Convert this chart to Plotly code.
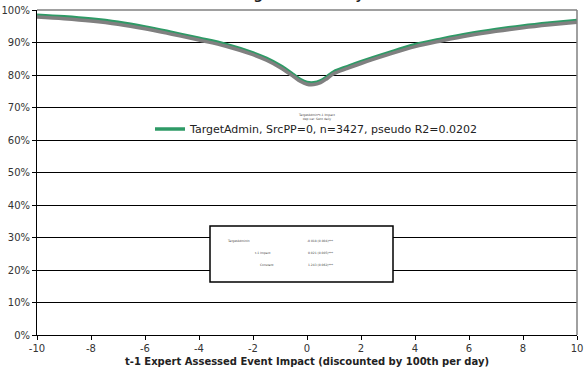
import plotly.graph_objects as go

# Predicted probability curve against lagged event impact
impact = [-10, -9, -8, -7, -6, -5, -4, -3, -2, -1.5, -1, -0.5, -0.25, 0, 0.25,
          0.5, 0.75, 1, 1.5, 2, 3, 4, 5, 6, 7, 8, 9, 10]
prob = [0.984, 0.979, 0.972, 0.962, 0.948, 0.931, 0.913, 0.894, 0.868, 0.851,
        0.829, 0.801, 0.786, 0.777, 0.776, 0.782, 0.795, 0.810, 0.826, 0.841,
        0.868, 0.893, 0.911, 0.927, 0.940, 0.951, 0.960, 0.968]

series_name = "TargetAdmin, SrcPP=0, n=3427, pseudo R2=0.0202"
x_ticks = list(range(-10, 11, 2))
x_tick_text = [str(v) for v in x_ticks]
y_ticks = [i / 10 for i in range(11)]

coef_names = ["TargetAdminIn", "t-1 Impact", "Constant"]
coef_values = ["-0.018 (0.004)***", "0.021 (0.005)***", "1.243 (0.062)***"]

FONT = "DejaVu Sans"
L, R, T, B = 37, 9, 10, 35
W, H = 586, 370
pw, ph = W - L - R, H - T - B

fig = go.Figure()

# drop shadow: same data on a y axis nudged down by a couple of pixels
fig.add_trace(go.Scatter(x=impact, y=prob, mode="lines", yaxis="y2",
                         line=dict(color="#808080", width=3.5, shape="spline"),
                         showlegend=False, hoverinfo="skip"))
fig.add_trace(go.Scatter(x=impact, y=prob, mode="lines", name=series_name,
                         line=dict(color="#2e9a66", width=3.5, shape="spline")))

dy = 1.8 / ph

fig.update_layout(
    width=W, height=H,
    margin=dict(l=L, r=R, t=T, b=B),
    paper_bgcolor="white", plot_bgcolor="white",
    font=dict(family=FONT, size=10, color="#333333"),
    xaxis=dict(range=[-10, 10], tickvals=x_ticks, ticktext=x_tick_text,
               ticks="outside", ticklen=4, automargin=False,
               tickcolor="black", showgrid=False, zeroline=False,
               showline=True, linecolor="black", linewidth=1,
               tickfont=dict(size=10, color="#333333"),
               title=dict(text="<b>t-1 Expert Assessed Event Impact (discounted by 100th per day)</b>",
                          font=dict(size=10, color="#222222"), standoff=4)),
    yaxis=dict(range=[0, 1], tickvals=y_ticks, tickformat=".0%", ticks="outside",
               ticklen=4, tickcolor="black", showgrid=True, gridcolor="black",
               gridwidth=1, zeroline=False, showline=True, linecolor="black",
               linewidth=1, automargin=False,
               tickfont=dict(size=10, color="#333333")),
    yaxis2=dict(range=[0 + dy, 1 + dy], overlaying="y", visible=False),
    legend=dict(x=(150 - L) / pw, y=(H - B - 129) / ph, xanchor="left",
                yanchor="middle", bgcolor="rgba(0,0,0,0)",
                font=dict(size=11, color="#222222"), itemwidth=30),
    showlegend=True,
)

# plot area border on top and right
fig.add_shape(type="line", xref="paper", yref="paper", x0=0, x1=1, y0=1, y1=1,
              line=dict(color="#808080", width=1.5))
fig.add_shape(type="line", xref="paper", yref="paper", x0=1, x1=1, y0=0, y1=1,
              line=dict(color="#808080", width=1.5))

# coefficient table box
bx0, bx1, by0, by1 = 210, 393, 226, 282
fig.add_shape(type="rect", xref="paper", yref="paper",
              x0=(bx0 - L) / pw, x1=(bx1 - L) / pw,
              y0=(H - B - by1) / ph, y1=(H - B - by0) / ph,
              line=dict(color="black", width=1.5), fillcolor="white", layer="above")
row_y = [245, 257, 269]
name_x = [238, 263, 267]
for nm, val, ry, nx in zip(coef_names, coef_values, row_y, name_x):
    fig.add_annotation(text=nm, xref="paper", yref="paper", x=(nx - L) / pw,
                       y=(H - B - ry) / ph, showarrow=False,
                       font=dict(size=3, color="#444444"))
    fig.add_annotation(text=val, xref="paper", yref="paper", x=(320 - L) / pw,
                       y=(H - B - ry) / ph, showarrow=False,
                       font=dict(size=3, color="#444444"))

# small model note above the legend
fig.add_annotation(text="TargetAdmin*t-1 Impact<br>dep var: Sent daily",
                   xref="paper", yref="paper", x=(317 - L) / pw,
                   y=(H - B - 111) / ph, showarrow=False,
                   font=dict(size=3, color="#444444"))

# chart title, largely above the visible page
fig.add_annotation(text="<b>Targets Sent daily</b>", xref="paper", yref="paper",
                   x=(297 - L) / pw, y=1, yanchor="bottom", yshift=6,
                   showarrow=False, font=dict(size=13, color="#222222"))

fig.write_html("out.html")
